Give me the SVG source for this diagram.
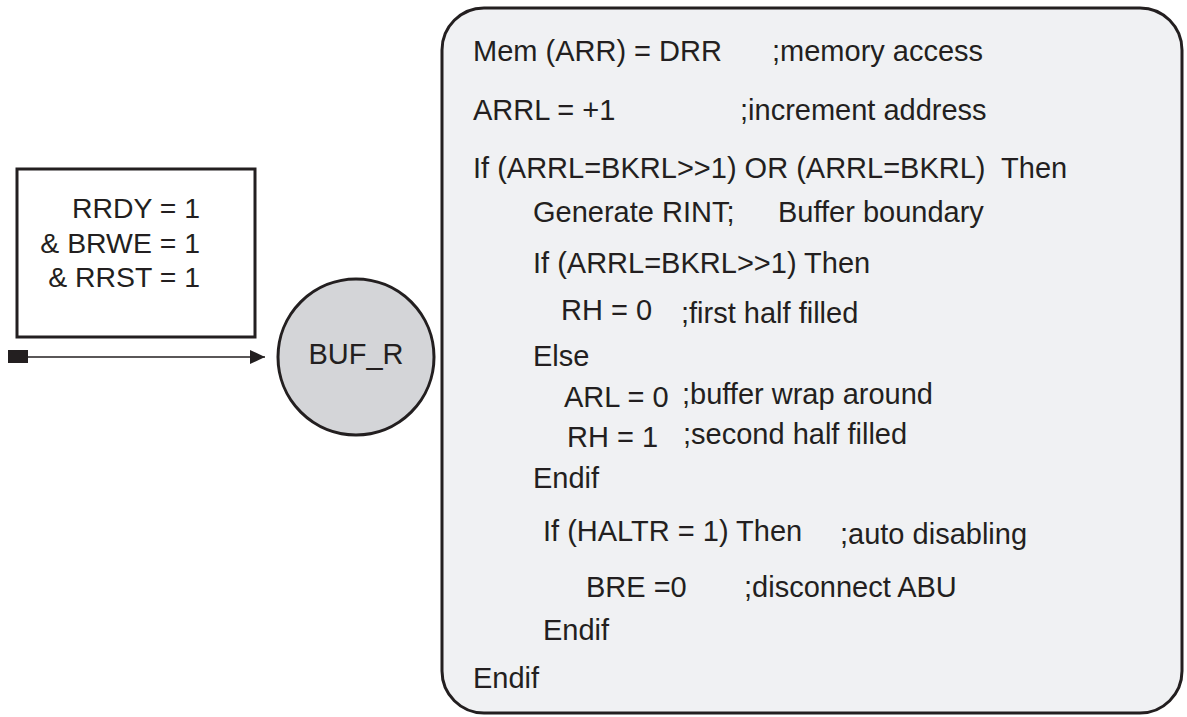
<svg xmlns="http://www.w3.org/2000/svg" width="1187" height="717" viewBox="0 0 1187 717">
<defs>
<style>
.t{font-family:"Liberation Sans",Arial,sans-serif;font-size:29px;fill:#231f20}
.s{font-family:"Liberation Sans",Arial,sans-serif;font-size:28.4px;fill:#231f20;text-anchor:end}
</style>
<marker id="ah" markerWidth="16" markerHeight="14" refX="15" refY="7" orient="auto" markerUnits="userSpaceOnUse">
<path d="M0,0 L15,7 L0,14 Z" fill="#231f20"/>
</marker>
</defs>
<rect width="1187" height="717" fill="#ffffff"/>
<g id="condition">
<rect x="17" y="169" width="238" height="168" fill="#ffffff" stroke="#231f20" stroke-width="3"/>
<text class="s" x="200" y="218">RRDY = 1</text>
<text class="s" x="200" y="253">&amp; BRWE = 1</text>
<text class="s" x="200" y="287">&amp; RRST = 1</text>
</g>
<g id="connectors">
<rect x="8" y="350" width="20" height="13" fill="#231f20"/>
<line x1="28" y1="357" x2="265" y2="357" stroke="#231f20" stroke-width="1.5" marker-end="url(#ah)"/>
</g>
<g id="buf_r">
<circle cx="356" cy="357" r="78" fill="#d4d5d8" stroke="#231f20" stroke-width="3"/>
<text class="t" x="356" y="364" text-anchor="middle">BUF_R</text>
</g>
<g id="actions">
<rect x="442" y="8" width="740" height="705" rx="42" ry="42" fill="#f0f1f3" stroke="#231f20" stroke-width="3"/>
<text class="t" x="473" y="61">Mem (ARR) = DRR</text>
<text class="t" x="772" y="61">;memory access</text>
<text class="t" x="473" y="120">ARRL = +1</text>
<text class="t" x="740" y="120">;increment address</text>
<text class="t" x="473" y="178" xml:space="preserve">If (ARRL=BKRL&gt;&gt;1) OR (ARRL=BKRL)  Then</text>
<text class="t" x="533" y="222">Generate RINT;</text>
<text class="t" x="778" y="222">Buffer boundary</text>
<text class="t" x="533" y="273">If (ARRL=BKRL&gt;&gt;1) Then</text>
<text class="t" x="561" y="320">RH = 0</text>
<text class="t" x="681" y="323">;first half filled</text>
<text class="t" x="533" y="366">Else</text>
<text class="t" x="564" y="407">ARL = 0</text>
<text class="t" x="682" y="404">;buffer wrap around</text>
<text class="t" x="567" y="447">RH = 1</text>
<text class="t" x="683" y="444">;second half filled</text>
<text class="t" x="533" y="488">Endif</text>
<text class="t" x="543" y="541">If (HALTR = 1) Then</text>
<text class="t" x="840" y="544">;auto disabling</text>
<text class="t" x="586" y="597">BRE =0</text>
<text class="t" x="744" y="597">;disconnect ABU</text>
<text class="t" x="543" y="640">Endif</text>
<text class="t" x="473" y="688">Endif</text>
</g>
</svg>
